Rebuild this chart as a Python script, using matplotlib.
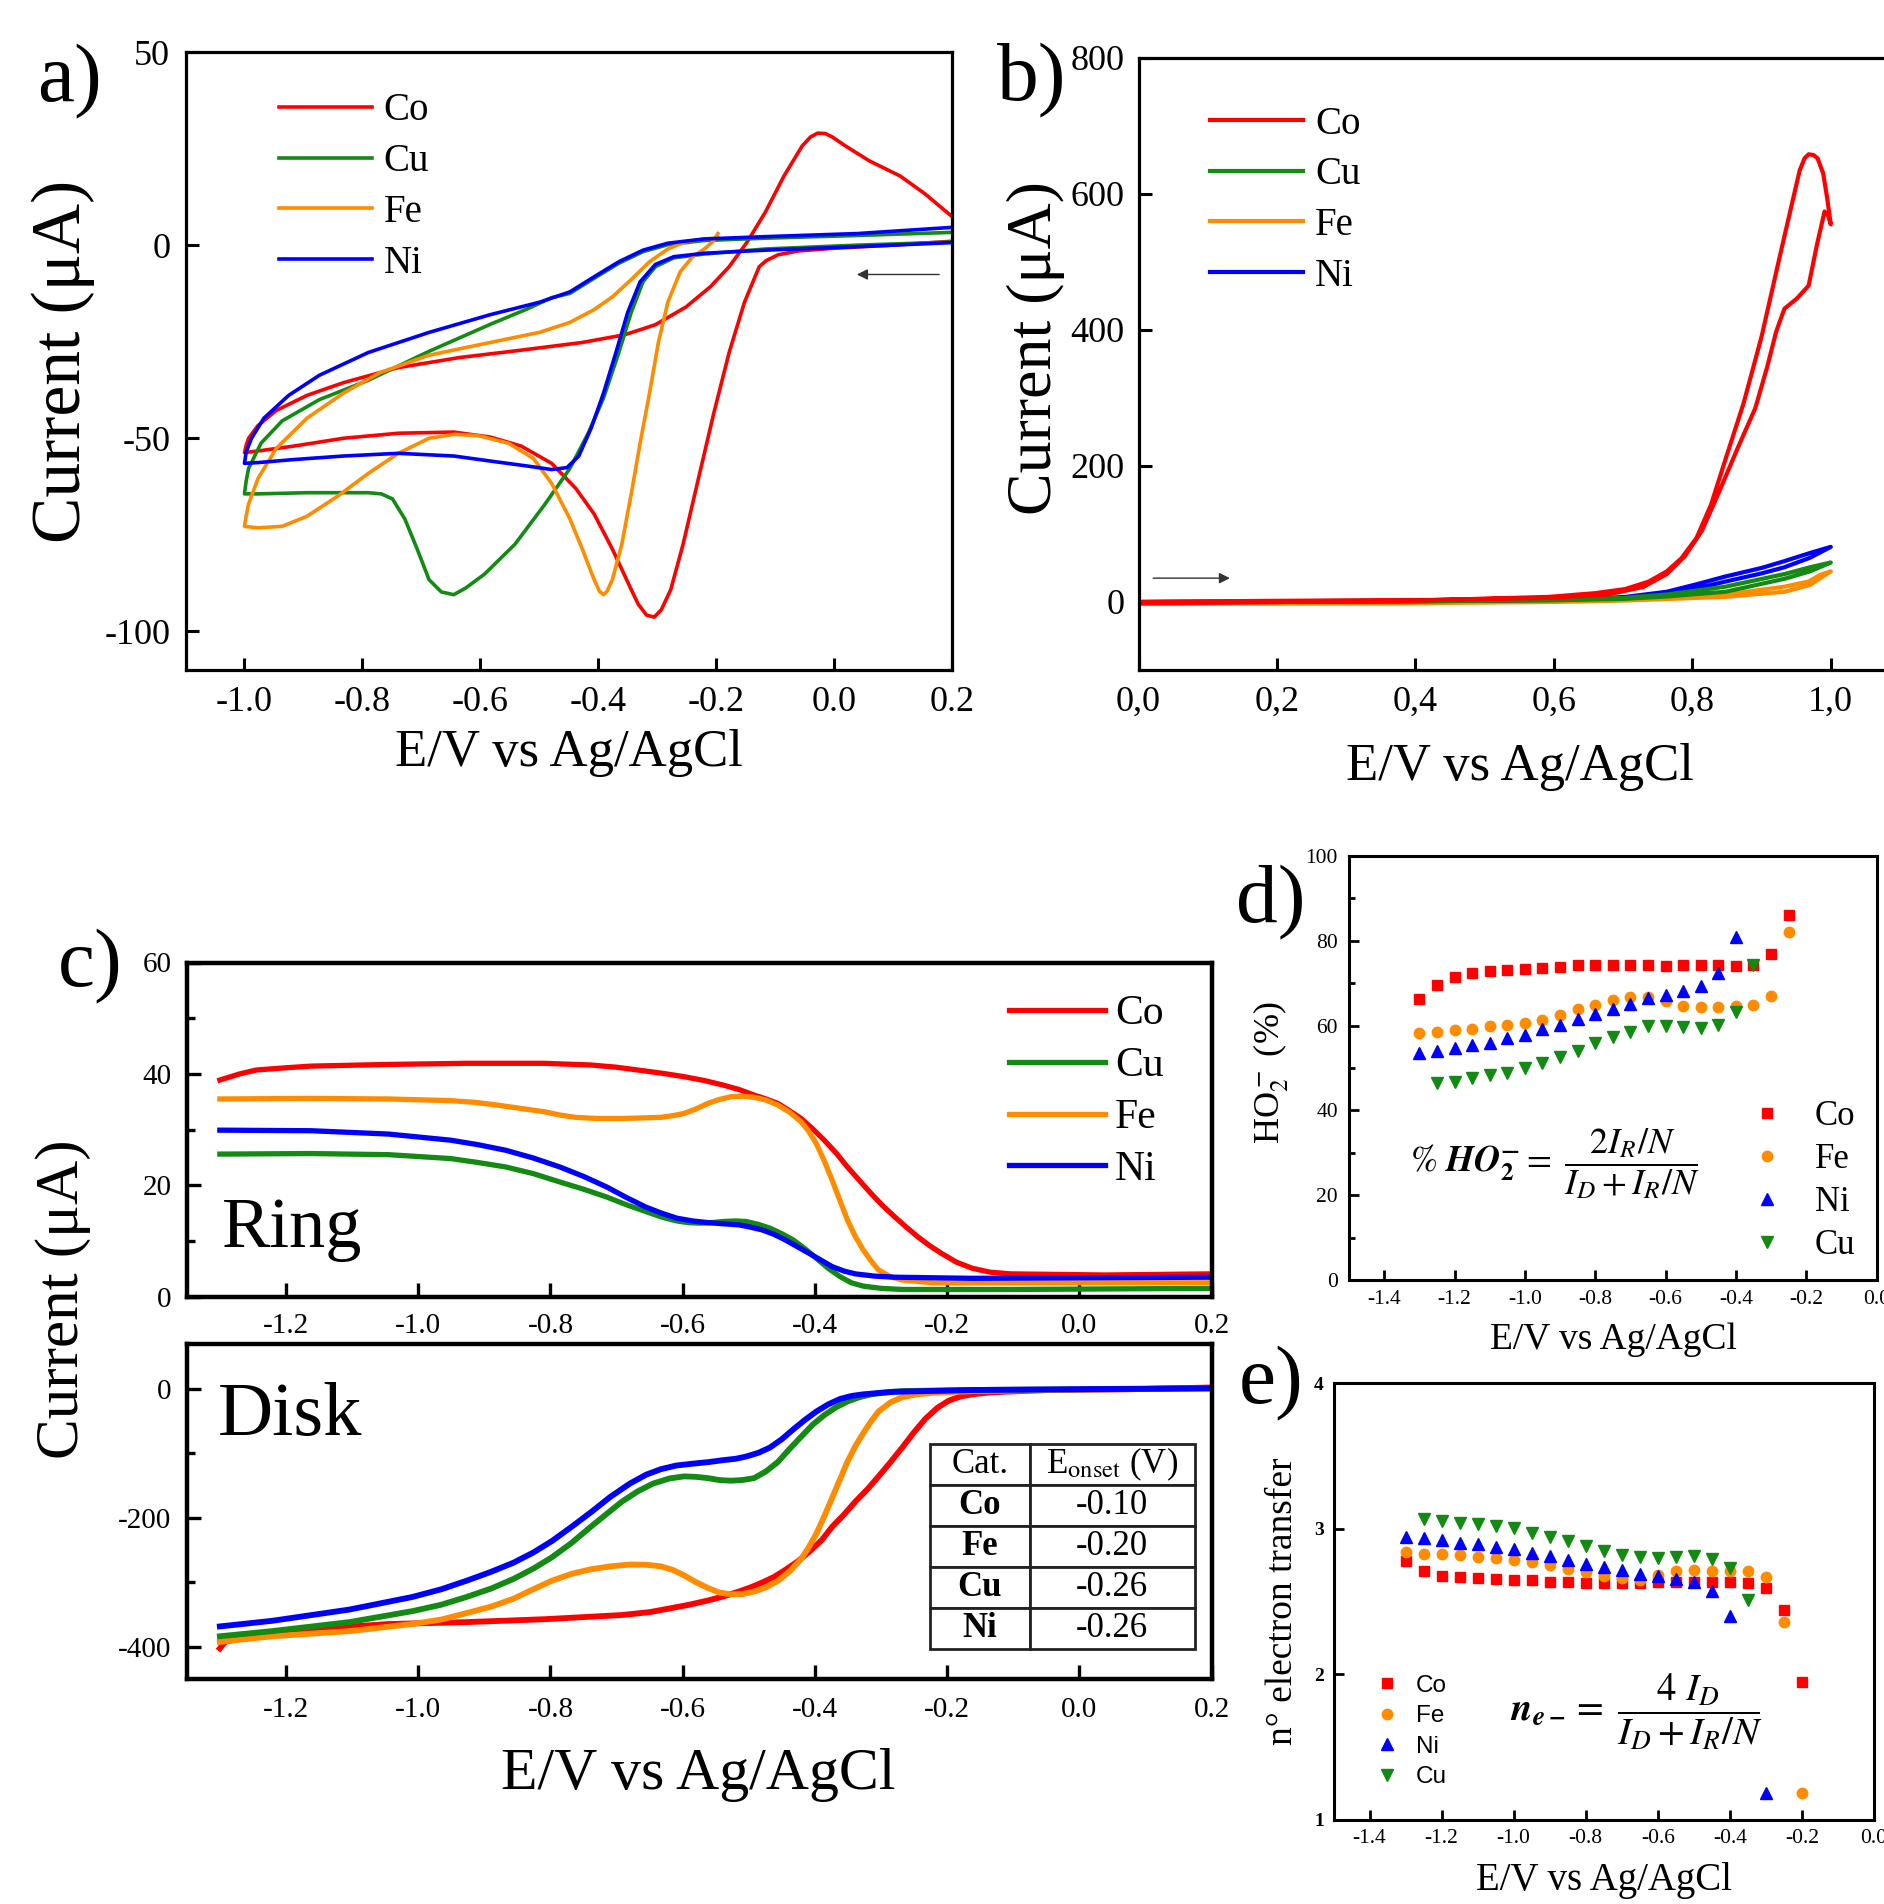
import matplotlib
matplotlib.use("Agg")
import matplotlib.pyplot as plt

plt.rcParams['font.family'] = ['Liberation Serif', 'DejaVu Serif']
plt.rcParams['mathtext.fontset'] = 'stix'
plt.rcParams['axes.unicode_minus'] = False

RED, GREEN, ORANGE, BLUE = '#ff0000', '#138a13', '#ff8c00', '#0000ff'
W, H = 1884, 1904

# ---------------- panel a : CV in N2 (E / V, I / uA) ----------------
co_a_E = [0.2, 0.1, 0.0, -0.06, -0.095, -0.115, -0.127, -0.152, -0.178, -0.204, -0.23, -0.256, -0.277, -0.293,
          -0.305, -0.318, -0.332, -0.344, -0.376, -0.407, -0.438, -0.479, -0.531, -0.583, -0.645, -0.739, -0.832,
          -0.915, -0.977, -1.0, -0.997, -0.993, -0.977, -0.946, -0.894, -0.832, -0.739, -0.635, -0.531, -0.427,
          -0.355, -0.303, -0.251, -0.21, -0.178, -0.147, -0.116, -0.085, -0.054, -0.04, -0.028, -0.015, -0.003,
          0.019, 0.06, 0.112, 0.154, 0.2]
co_a_I = [1.0, 0.0, -0.8, -1.5, -2.5, -4.0, -5.6, -14.8, -27.8, -43.5, -60.4, -77.4, -89.2, -94.4,
          -96.3, -95.8, -93.0, -89.2, -78.7, -69.6, -63.0, -56.5, -52.0, -49.7, -48.4, -48.7, -50.0,
          -52.0, -53.3, -53.7, -51.8, -50.0, -46.7, -42.8, -38.9, -35.6, -31.7, -29.1, -27.2, -25.2,
          -23.2, -20.6, -16.0, -10.8, -5.6, 0.9, 8.7, 17.9, 25.7, 28.0, 29.0, 28.9, 28.0,
          25.7, 21.8, 17.9, 13.3, 7.4]

cu_a_E = [0.2, 0.04, -0.116, -0.22, -0.272, -0.303, -0.324, -0.344, -0.365, -0.391, -0.417, -0.448, -0.49, -0.541,
          -0.593, -0.625, -0.645, -0.666, -0.687, -0.707, -0.728, -0.749, -0.768, -0.79, -0.894, -0.977, -1.0,
          -0.997, -0.993, -0.972, -0.936, -0.873, -0.79, -0.687, -0.583, -0.52, -0.479, -0.448, -0.407, -0.365,
          -0.324, -0.282, -0.22, -0.116, 0.04, 0.2]
cu_a_I = [0.8, 0.0, -1.0, -2.3, -3.3, -5.6, -9.5, -17.4, -27.8, -39.6, -48.7, -57.8, -67.0, -77.4,
          -85.2, -88.8, -90.5, -89.8, -86.6, -78.7, -70.9, -65.7, -64.4, -64.1, -64.1, -64.4, -64.4,
          -61.0, -57.8, -51.3, -45.5, -40.0, -35.0, -27.5, -20.5, -16.5, -13.6, -12.5, -8.6, -4.7,
          -1.7, 0.1, 1.2, 1.8, 2.5, 3.3]

fe_a_E = [-0.197, -0.205, -0.22, -0.24, -0.261, -0.282, -0.298, -0.313, -0.329, -0.344, -0.36, -0.376, -0.385,
          -0.391, -0.398, -0.407, -0.427, -0.448, -0.479, -0.51, -0.552, -0.604, -0.645, -0.687, -0.739, -0.79,
          -0.842, -0.894, -0.936, -0.977, -1.0, -0.997, -0.993, -0.977, -0.946, -0.894, -0.832, -0.77, -0.687,
          -0.583, -0.5, -0.448, -0.407, -0.376, -0.344, -0.313, -0.282, -0.251, -0.22, -0.197]
fe_a_I = [3.0, 1.0, -1.0, -3.0, -6.9, -14.8, -25.2, -38.3, -51.3, -64.4, -77.4, -86.6, -89.6,
          -90.5, -89.6, -86.6, -78.7, -70.9, -61.7, -55.2, -51.3, -49.3, -49.0, -50.0, -53.9, -59.1,
          -65.0, -70.2, -72.8, -73.2, -72.8, -70.0, -67.0, -60.4, -52.6, -44.8, -38.3, -33.0, -28.5,
          -25.2, -22.6, -20.0, -16.7, -13.4, -8.9, -4.3, -1.0, 0.9, 1.6, 1.8]

ni_a_E = [0.2, 0.04, -0.116, -0.22, -0.272, -0.303, -0.329, -0.35, -0.37, -0.391, -0.412, -0.433, -0.453, -0.479,
          -0.52, -0.583, -0.645, -0.739, -0.832, -0.915, -0.977, -1.0, -0.997, -0.988, -0.967, -0.925, -0.873,
          -0.79, -0.687, -0.583, -0.5, -0.448, -0.407, -0.365, -0.324, -0.282, -0.22, -0.116, 0.04, 0.2]
ni_a_I = [0.65, -0.4, -1.3, -2.1, -3.0, -5.0, -9.5, -17.4, -27.8, -38.3, -47.4, -54.6, -57.6, -58.1,
          -57.2, -55.9, -54.6, -53.9, -54.6, -55.5, -56.3, -56.5, -53.5, -50.0, -44.8, -38.9, -33.7,
          -27.8, -22.6, -18.0, -14.8, -12.1, -8.2, -4.3, -1.3, 0.5, 1.6, 2.2, 3.0, 4.6]

# ---------------- panel b : anodic CV ----------------
co_b_E = [0.0, 0.2, 0.4, 0.593, 0.66, 0.703, 0.737, 0.763, 0.784, 0.806, 0.827, 0.848, 0.874, 0.9, 0.925, 0.942,
          0.955, 0.962, 0.968, 0.975, 0.981, 0.989, 0.995, 1.0, 0.996, 0.991, 0.98, 0.968, 0.951, 0.933, 0.921,
          0.908, 0.891, 0.865, 0.84, 0.814, 0.789, 0.763, 0.729, 0.678, 0.593, 0.422, 0.166, 0.0]
co_b_I = [-2, 0, 2, 7.5, 13, 19, 30, 45, 64, 94, 143, 210, 292, 390, 502, 577,
          634, 652, 658, 657, 652, 630, 592, 555, 568, 574, 525, 465, 446, 431, 397,
          345, 285, 225, 165, 105, 67, 41, 22, 11, 6, 3, 1.5, 0]
cu_b_E = [0.0, 0.4, 0.6, 0.7, 0.763, 0.848, 0.933, 0.97, 1.0, 0.97, 0.933, 0.848, 0.763, 0.7, 0.6, 0.4, 0.0]
cu_b_I = [-1, 1, 2.5, 4.5, 8, 15, 34, 45, 58, 51, 41, 22.5, 11, 6, 3.5, 2, 0]
fe_b_E = [0.0, 0.2, 0.38, 0.6, 0.7, 0.848, 0.933, 0.97, 1.0, 0.985, 0.968, 0.933, 0.848, 0.763, 0.6, 0.4, 0.2, 0.0]
fe_b_I = [-3, -2.5, -2, 0, 2, 7.5, 15, 25, 45, 40, 30, 22.5, 11, 6, 2.5, 1, 0, -1]
ni_b_E = [0.0, 0.4, 0.6, 0.7, 0.763, 0.806, 0.848, 0.9, 0.933, 0.97, 1.0, 0.97, 0.933, 0.9, 0.848, 0.806, 0.763,
          0.7, 0.6, 0.4, 0.0]
ni_b_I = [-1, 1, 3, 6, 12, 20, 30, 42, 51, 65, 81, 72, 60, 50, 37.5, 26, 15, 7, 4, 2, 0]

# ---------------- panel c : RRDE ring / disk ----------------
co_ring_E = [-1.3, -1.27, -1.245, -1.2, -1.162, -1.045, -0.927, -0.809, -0.739, -0.7, -0.668, -0.63, -0.598, -0.567,
             -0.539, -0.515, -0.492, -0.474, -0.456, -0.44, -0.421, -0.404, -0.386, -0.368, -0.351, -0.333, -0.315,
             -0.298, -0.28, -0.262, -0.245, -0.227, -0.209, -0.186, -0.162, -0.135, -0.104, 0.038, 0.2]
co_ring_I = [38.9, 40.0, 40.7, 41.1, 41.4, 41.7, 41.9, 41.9, 41.6, 41.2, 40.7, 40.1, 39.5, 38.8,
             38.0, 37.2, 36.2, 35.5, 34.7, 33.5, 32.0, 30.2, 28.1, 25.8, 23.3, 20.9, 18.5,
             16.4, 14.4, 12.5, 10.8, 9.2, 7.8, 6.2, 5.1, 4.4, 4.1, 3.9, 4.1]
fe_ring_E = [-1.3, -1.162, -1.045, -0.951, -0.915, -0.88, -0.845, -0.809, -0.785, -0.762, -0.73, -0.692, -0.66,
             -0.633, -0.615, -0.598, -0.58, -0.562, -0.545, -0.527, -0.51, -0.492, -0.474, -0.456, -0.438, -0.421,
             -0.41, -0.398, -0.386, -0.374, -0.362, -0.351, -0.339, -0.327, -0.315, -0.304, -0.286, -0.268,
             -0.221, 0.2]
fe_ring_I = [35.5, 35.6, 35.5, 35.2, 34.9, 34.4, 33.8, 33.2, 32.6, 32.2, 32.0, 32.0, 32.1,
             32.2, 32.5, 32.9, 33.7, 34.7, 35.4, 35.9, 36.0, 35.8, 35.3, 34.4, 33.1, 31.4,
             29.8, 27.5, 24.4, 20.9, 17.2, 13.8, 10.8, 8.4, 6.4, 4.8, 3.6, 3.0,
             2.5, 2.5]
cu_ring_E = [-1.3, -1.162, -1.045, -0.951, -0.91, -0.868, -0.826, -0.786, -0.75, -0.715, -0.685, -0.656, -0.632,
             -0.609, -0.592, -0.574, -0.556, -0.539, -0.52, -0.504, -0.486, -0.468, -0.45, -0.433, -0.415, -0.398,
             -0.38, -0.362, -0.345, -0.327, -0.3, -0.268, -0.104, 0.2]
cu_ring_I = [25.6, 25.7, 25.5, 24.8, 24.1, 23.3, 22.1, 20.6, 19.3, 17.9, 16.5, 15.3, 14.3,
             13.6, 13.3, 13.2, 13.3, 13.5, 13.6, 13.5, 13.0, 12.3, 11.3, 10.2, 8.6, 6.9,
             5.1, 3.6, 2.5, 1.9, 1.5, 1.3, 1.3, 1.5]
ni_ring_E = [-1.3, -1.162, -1.045, -0.951, -0.91, -0.868, -0.826, -0.786, -0.75, -0.715, -0.685, -0.656, -0.632,
             -0.609, -0.585, -0.562, -0.54, -0.515, -0.498, -0.48, -0.462, -0.445, -0.427, -0.409, -0.39, -0.374,
             -0.356, -0.339, -0.31, -0.28, -0.162, 0.2]
ni_ring_I = [29.9, 29.8, 29.2, 28.1, 27.3, 26.3, 24.9, 23.3, 21.6, 19.7, 17.8, 16.1, 15.0,
             14.1, 13.6, 13.3, 13.1, 12.9, 12.5, 12.0, 11.2, 10.2, 9.0, 7.8, 6.5, 5.4,
             4.6, 4.1, 3.7, 3.5, 3.3, 3.5]

co_disk_E = [-1.3, -1.292, -1.256, -1.162, -1.045, -0.927, -0.809, -0.692, -0.65, -0.621, -0.59, -0.562, -0.538,
             -0.515, -0.497, -0.48, -0.462, -0.445, -0.427, -0.409, -0.39, -0.374, -0.356, -0.339, -0.32, -0.304,
             -0.286, -0.268, -0.25, -0.233, -0.215, -0.198, -0.18, -0.162, -0.14, -0.115, -0.045, 0.073, 0.2]
co_disk_I = [-402.8, -392.7, -384, -373, -365, -362, -357.5, -351, -346.5, -341, -335, -328.5, -322,
             -314.5, -308, -300.6, -292, -281, -268.5, -253, -235, -214, -195, -175, -155, -136,
             -114, -91, -67, -46.4, -29.5, -18.4, -11.8, -8.4, -6, -4.5, -1.7, -0.6, 2.2]
fe_disk_E = [-1.3, -1.221, -1.104, -1.009, -0.965, -0.927, -0.89, -0.856, -0.826, -0.798, -0.768, -0.739, -0.71,
             -0.68, -0.655, -0.633, -0.615, -0.598, -0.58, -0.562, -0.545, -0.527, -0.51, -0.492, -0.474, -0.456,
             -0.438, -0.421, -0.41, -0.398, -0.386, -0.374, -0.362, -0.351, -0.339, -0.327, -0.315, -0.304, -0.286,
             -0.268, -0.245, -0.221, -0.162, -0.045, 0.2]
fe_disk_I = [-392.7, -384, -376, -365, -358, -348, -338, -325.7, -311, -297.8, -287, -280, -275.5,
             -272.6, -273, -275.4, -281, -289.4, -300, -309, -316, -319, -318.5, -314.5, -308, -297.8,
             -283, -264, -247, -225, -198, -169, -140, -113.4, -89, -68.7, -50, -35.2, -21,
             -12.8, -8.3, -6.1, -3.4, -1.7, 1.1]
cu_disk_E = [-1.3, -1.221, -1.104, -1.009, -0.965, -0.927, -0.89, -0.856, -0.826, -0.798, -0.768, -0.739, -0.715,
             -0.692, -0.668, -0.645, -0.62, -0.598, -0.58, -0.562, -0.545, -0.527, -0.51, -0.492, -0.474, -0.456,
             -0.44, -0.421, -0.404, -0.386, -0.368, -0.351, -0.333, -0.315, -0.29, -0.268, -0.162, 0.2]
cu_disk_I = [-384, -376, -362, -345, -335, -323, -310, -295, -279, -261.5, -239, -214, -194,
             -175, -159, -147, -139, -135.8, -136.5, -138.5, -141.5, -142.5, -141.5, -138.5, -128, -113.4,
             -95, -74.3, -56, -40.8, -28.5, -19.6, -13, -8.4, -5.2, -3.4, -1.7, 0.6]
ni_disk_E = [-1.3, -1.221, -1.104, -1.009, -0.965, -0.927, -0.89, -0.856, -0.826, -0.798, -0.768, -0.739, -0.71,
             -0.68, -0.655, -0.633, -0.61, -0.586, -0.56, -0.539, -0.52, -0.504, -0.485, -0.468, -0.45, -0.433,
             -0.415, -0.398, -0.38, -0.362, -0.345, -0.327, -0.3, -0.28, -0.162, 0.2]
ni_disk_I = [-368.7, -360, -342.5, -323, -311, -297.8, -284, -269.8, -254, -236.3, -214, -191.6, -168,
             -147, -133, -124.6, -119, -116.2, -113.5, -110.6, -108.5, -105, -99, -91, -78, -63,
             -48, -35.2, -24, -15.6, -11, -8.4, -6, -4.5, -1.7, 1.1]

table_rows = [['Cat.', r'E$_{\rm onset}$ (V)'], ['Co', '-0.10'], ['Fe', '-0.20'], ['Cu', '-0.26'], ['Ni', '-0.26']]

# ---------------- panel d : % HO2- ----------------
E_d = [-1.3, -1.25, -1.2, -1.15, -1.1, -1.05, -1.0, -0.95, -0.9, -0.85, -0.8, -0.75, -0.7, -0.65, -0.6, -0.55,
       -0.5, -0.45, -0.4, -0.35, -0.3, -0.25]
co_d = [66.2, 69.6, 71.4, 72.4, 72.8, 73.2, 73.4, 73.6, 73.9, 74.3, 74.4, 74.4, 74.4, 74.3, 74.1, 74.3,
        74.3, 74.3, 74.0, 74.4, 76.9, 86.2]
fe_d = [58.2, 58.4, 59.0, 59.3, 59.8, 60.2, 60.6, 61.4, 62.5, 63.9, 64.9, 66.1, 66.7, 66.7, 65.7, 64.7,
        64.5, 64.5, 64.7, 64.9, 67.0, 82.1]
E_d_ni = E_d[:19]
ni_d = [53.5, 54.1, 54.8, 55.4, 55.9, 57.0, 57.8, 59.2, 60.2, 61.6, 62.7, 64.0, 65.1, 66.6, 67.1, 68.1,
        69.3, 72.4, 80.8]
E_d_cu = E_d[1:20]
cu_d = [46.4, 46.8, 47.6, 48.3, 48.9, 50.1, 51.1, 52.5, 54.1, 55.8, 57.4, 58.6, 59.8, 60.0, 59.7, 59.4,
        60.2, 63.3, 74.2]

# ---------------- panel e : electron number ----------------
E_e = E_d + [-0.2]
co_e = [2.776, 2.71, 2.677, 2.664, 2.659, 2.654, 2.647, 2.643, 2.636, 2.631, 2.629, 2.626, 2.624, 2.626, 2.631,
        2.631, 2.631, 2.636, 2.636, 2.629, 2.589, 2.437, 1.946]
fe_e = [2.839, 2.827, 2.822, 2.815, 2.806, 2.799, 2.787, 2.769, 2.748, 2.724, 2.699, 2.675, 2.659, 2.647, 2.682,
        2.71, 2.713, 2.71, 2.71, 2.706, 2.664, 2.355, 1.182]
E_e_ni = E_d[:19] + [-0.3]
ni_e = [2.944, 2.935, 2.923, 2.904, 2.893, 2.876, 2.86, 2.834, 2.808, 2.783, 2.759, 2.736, 2.713, 2.687, 2.671,
        2.654, 2.636, 2.57, 2.402, 1.18]
E_e_cu = E_d[1:20]
cu_e = [3.063, 3.051, 3.04, 3.028, 3.014, 3.002, 2.967, 2.939, 2.911, 2.878, 2.846, 2.818, 2.804, 2.799, 2.806,
        2.808, 2.792, 2.729, 2.507]

xt_a = [-1.0, -0.8, -0.6, -0.4, -0.2, 0.0, 0.2]
yt_a = [-100, -50, 0, 50]
xt_b = [0.0, 0.2, 0.4, 0.6, 0.8, 1.0]
xt_b_lab = ['0,0', '0,2', '0,4', '0,6', '0,8', '1,0']
yt_b = [0, 200, 400, 600, 800]
xt_c = [-1.2, -1.0, -0.8, -0.6, -0.4, -0.2, 0.0, 0.2]
xt_de = [-1.4, -1.2, -1.0, -0.8, -0.6, -0.4, -0.2, 0.0]


def rect(l, t, r, b):
    return [l / W, 1 - b / H, (r - l) / W, (b - t) / H]


def style(ax, spw, fs, tl, tw, padx, pady):
    for s in ax.spines.values():
        s.set_linewidth(spw)
    ax.tick_params(which='both', direction='in', width=tw, labelsize=fs)
    ax.tick_params(which='major', length=tl)
    ax.tick_params(which='minor', length=tl * 0.6)
    ax.tick_params(axis='x', pad=padx)
    ax.tick_params(axis='y', pad=pady)


def fmt(v, nd=1):
    return f'{v:.{nd}f}'


fig = plt.figure(figsize=(W / 100, H / 100), dpi=100)

# ---- a ----
ax = fig.add_axes(rect(185.5, 52, 952, 670))
ax.plot(co_a_E, co_a_I, color=RED, lw=2.6, label='Co')
ax.plot(cu_a_E, cu_a_I, color=GREEN, lw=2.6, label='Cu')
ax.plot(fe_a_E, fe_a_I, color=ORANGE, lw=2.6, label='Fe')
ax.plot(ni_a_E, ni_a_I, color=BLUE, lw=2.6, label='Ni')
ax.set_xlim(-1.1, 0.2)
ax.set_ylim(-110, 50)
ax.set_xticks(xt_a, [fmt(v) for v in xt_a])
ax.set_yticks(yt_a, [str(v) for v in yt_a])
style(ax, 2.3, 26, 9, 2.2, 11.6, 11)
ax.annotate('', xy=(0.034, -7.6), xytext=(0.183, -7.6),
            arrowprops=dict(arrowstyle='-|>', color='#333333', lw=1.0, mutation_scale=16))
ax.legend(loc='upper left', bbox_to_anchor=(278.6 / W, 1 - 92.5 / H), bbox_transform=fig.transFigure,
          frameon=False, fontsize=28, handlelength=2.4, handletextpad=0.3, labelspacing=0.355,
          borderpad=0, borderaxespad=0)
ax.set_xlabel('E/V vs Ag/AgCl', fontsize=38, va='center')
ax.xaxis.set_label_coords(0.5, -0.134)
ax.set_ylabel('Current (μA)', fontsize=50, va='center')
ax.yaxis.set_label_coords(-0.16, 0.5)
fig.text(69 / W, 1 - 82 / H, 'a)', fontsize=60, ha='center', va='center')

# ---- b ----
ax = fig.add_axes(rect(1138.6, 57.7, 1900, 670))
ax.plot(fe_b_E, fe_b_I, color=ORANGE, lw=3, label='Fe')
ax.plot(ni_b_E, ni_b_I, color=BLUE, lw=3, label='Ni')
ax.plot(cu_b_E, cu_b_I, color=GREEN, lw=3, label='Cu')
ax.plot(co_b_E, co_b_I, color=RED, lw=3, label='Co')
ax.set_xlim(0, 1.1)
ax.set_ylim(-100, 800)
ax.set_xticks(xt_b, xt_b_lab)
ax.set_yticks(yt_b, [str(v) for v in yt_b])
style(ax, 2.3, 26, 9, 2.2, 11.6, 10)
ax.annotate('', xy=(0.136, 35), xytext=(0.017, 35),
            arrowprops=dict(arrowstyle='-|>', color='#333333', lw=1.0, mutation_scale=16))
hd, lb = ax.get_legend_handles_labels()
order = [3, 2, 0, 1]
ax.legend([hd[i] for i in order], [lb[i] for i in order], loc='upper left',
          bbox_to_anchor=(1210 / W, 1 - 105.5 / H), bbox_transform=fig.transFigure,
          frameon=False, fontsize=28, handlelength=2.4, handletextpad=0.3, labelspacing=0.355,
          borderpad=0, borderaxespad=0)
ax.set_xlabel('E/V vs Ag/AgCl', fontsize=38, va='center')
ax.xaxis.set_label_coords(0.501, -0.158)
ax.set_ylabel('Current (μA)', fontsize=46, va='center')
ax.yaxis.set_label_coords(-0.135, 0.526)
fig.text(1032 / W, 1 - 81 / H, 'b)', fontsize=60, ha='center', va='center')

# ---- c ring ----
ax = fig.add_axes(rect(186.8, 962.5, 1211.7, 1296.7))
ax.plot(co_ring_E, co_ring_I, color=RED, lw=3.8, label='Co')
ax.plot(cu_ring_E, cu_ring_I, color=GREEN, lw=3.8, label='Cu')
ax.plot(fe_ring_E, fe_ring_I, color=ORANGE, lw=3.8, label='Fe')
ax.plot(ni_ring_E, ni_ring_I, color=BLUE, lw=3.8, label='Ni')
ax.set_xlim(-1.35, 0.2)
ax.set_ylim(0, 60)
ax.set_xticks(xt_c, [fmt(v) for v in xt_c])
ax.set_yticks([0, 20, 40, 60], ['0', '20', '40', '60'])
ax.set_yticks([10, 30, 50], minor=True)
style(ax, 3.2, 21, 10, 2.4, 12, 11)
ax.legend(loc='upper left', bbox_to_anchor=(1009 / W, 1 - 995 / H), bbox_transform=fig.transFigure,
          frameon=False, fontsize=30, handlelength=2.3, handletextpad=0.25, labelspacing=0.32,
          borderpad=0, borderaxespad=0)
fig.text(221.8 / W, 1 - 1247 / H, 'Ring', fontsize=52, ha='left', va='baseline')
fig.text(90 / W, 1 - 967 / H, 'c)', fontsize=60, ha='center', va='center')

# ---- c disk ----
ax = fig.add_axes(rect(186.8, 1343.8, 1211.7, 1678.8))
ax.plot(co_disk_E, co_disk_I, color=RED, lw=4.2)
ax.plot(fe_disk_E, fe_disk_I, color=ORANGE, lw=4.2)
ax.plot(cu_disk_E, cu_disk_I, color=GREEN, lw=4.2)
ax.plot(ni_disk_E, ni_disk_I, color=BLUE, lw=4.2)
ax.set_xlim(-1.35, 0.2)
ax.set_ylim(-450, 70)
ax.set_xticks(xt_c, [fmt(v) for v in xt_c])
ax.set_yticks([-400, -200, 0], ['-400', '-200', '0'])
ax.set_yticks([-300, -100], minor=True)
style(ax, 3.2, 21, 10, 2.4, 13, 11)
fig.text(218 / W, 1 - 1435 / H, 'Disk', fontsize=55, ha='left', va='baseline')
tb = ax.table(cellText=table_rows, cellLoc='center', colWidths=[0.376, 0.624],
              bbox=[0.7252, 0.0901, 0.2581, 0.612])
tb.auto_set_font_size(False)
for (r, c), cell in tb.get_celld().items():
    cell.set_linewidth(2.0)
    cell.set_edgecolor('#222222')
    cell.set_facecolor('white')
    cell.get_text().set_fontsize(25)
    if r > 0 and c == 0:
        cell.get_text().set_fontweight('bold')
ax.set_xlabel('E/V vs Ag/AgCl', fontsize=43, va='center')
ax.xaxis.set_label_coords(0.4988, -0.287)
fig.text(63 / W, 1 - 1299 / H, 'Current (μA)', fontsize=44, rotation=90, ha='center', va='center')

# ---- d ----
ax = fig.add_axes(rect(1349, 856, 1876.5, 1280))
ax.plot(E_d, co_d, 's', color=RED, ms=7, ls='none', label='Co')
ax.plot(E_d, fe_d, 'o', color=ORANGE, ms=7.5, ls='none', label='Fe')
ax.plot(E_d_ni, ni_d, '^', color=BLUE, ms=8, ls='none', label='Ni')
ax.plot(E_d_cu, cu_d, 'v', color=GREEN, ms=8, ls='none', label='Cu')
ax.set_xlim(-1.5, 0.0)
ax.set_ylim(0, 100)
ax.set_xticks(xt_de, [fmt(v) for v in xt_de])
ax.set_yticks(range(0, 101, 20), [str(v) for v in range(0, 101, 20)])
ax.set_yticks(range(10, 100, 20), minor=True)
style(ax, 2.2, 15.5, 7, 2.0, 7, 8)
ax.legend(loc='upper left', bbox_to_anchor=(1749.6 / W, 1 - 1100 / H), bbox_transform=fig.transFigure,
          frameon=False, fontsize=25, handlelength=1.0, handletextpad=0.88, labelspacing=0.285,
          borderpad=0, borderaxespad=0, numpoints=1)
fig.text(1554.6 / W, 1 - 1164 / H, r'$\%\ \mathbfit{HO}_\mathbf{2}^{\mathbf{-}} =\ \dfrac{2I_R/N}{I_D+I_R/N}$',
         fontsize=26, ha='center', va='center')
ax.set_xlabel('E/V vs Ag/AgCl', fontsize=27, va='center')
ax.xaxis.set_label_coords(0.502, -0.14)
ax.set_ylabel('HO$_2^-$ (%)', fontsize=26, va='center')
ax.yaxis.set_label_coords(-0.148, 0.489)
fig.text(1271 / W, 1 - 903 / H, 'd)', fontsize=60, ha='center', va='center')

# ---- e ----
ax = fig.add_axes(rect(1333.5, 1383, 1874, 1819.6))
ax.plot(E_e, co_e, 's', color=RED, ms=7, ls='none', label='Co')
ax.plot(E_e, fe_e, 'o', color=ORANGE, ms=7.5, ls='none', label='Fe')
ax.plot(E_e_ni, ni_e, '^', color=BLUE, ms=8, ls='none', label='Ni')
ax.plot(E_e_cu, cu_e, 'v', color=GREEN, ms=8, ls='none', label='Cu')
ax.set_xlim(-1.5, 0.0)
ax.set_ylim(1, 4)
ax.set_xticks(xt_de, [fmt(v) for v in xt_de])
ax.set_yticks([1, 2, 3, 4], ['1', '2', '3', '4'])
style(ax, 2.2, 15.5, 7, 2.0, 7, 7)
for t in ax.get_yticklabels():
    t.set_fontsize(14)
    t.set_fontweight('bold')
ax.legend(loc='upper left', bbox_to_anchor=(1374.9 / W, 1 - 1674.5 / H), bbox_transform=fig.transFigure,
          frameon=False, prop={'family': 'Liberation Sans', 'size': 17.5}, handlelength=1.0,
          handletextpad=0.68, labelspacing=0.35, borderpad=0, borderaxespad=0, numpoints=1)
fig.text(1636 / W, 1 - 1712 / H, r'$\mathbfit{n}_{\mathbfit{e-}} =\ \dfrac{4\ I_D}{I_D+I_R/N}$',
         fontsize=28, ha='center', va='center')
ax.set_xlabel('E/V vs Ag/AgCl', fontsize=28, va='center')
ax.xaxis.set_label_coords(0.5005, -0.1406)
ax.set_ylabel('n° electron transfer', fontsize=27, va='center')
ax.yaxis.set_label_coords(-0.094, 0.499)
fig.text(1271 / W, 1 - 1384 / H, 'e)', fontsize=60, ha='center', va='center')

fig.savefig('out.png', dpi=100)
